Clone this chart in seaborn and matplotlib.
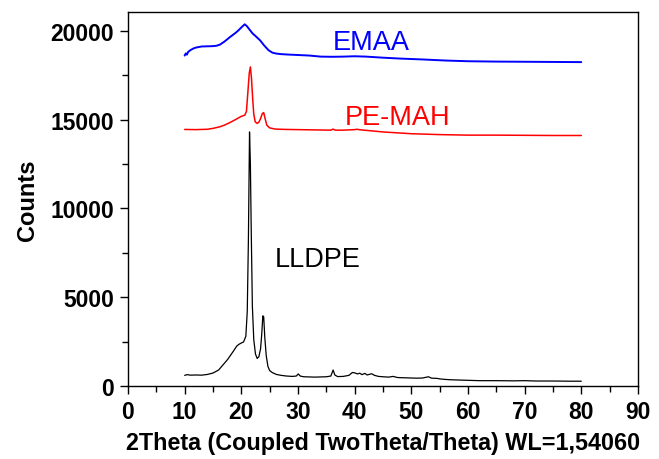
import matplotlib
matplotlib.use("Agg")
import matplotlib.pyplot as plt
from matplotlib.ticker import MultipleLocator
import seaborn as sns
import pandas as pd

# Diffractogram traces: 2theta (deg) and counts
lldpe_x = [10.0, 10.5, 11.0, 12.0, 13.0, 14.0, 15.0, 16.0, 16.8, 17.6, 18.6, 19.2, 19.6, 20.0,
           20.4, 20.8, 21.05, 21.25, 21.45, 21.6, 21.75, 21.95, 22.2, 22.5, 22.8, 23.1, 23.4,
           23.6, 23.8, 23.95, 24.15, 24.4, 24.7, 25.0, 25.5, 26.2, 27.0, 28.0, 29.0, 29.7,
           30.05, 30.4, 31.0, 32.0, 33.0, 34.0, 35.0, 35.8, 36.2, 36.5, 37.0, 38.0, 39.0,
           39.6, 40.0, 40.5, 40.9, 41.3, 41.8, 42.2, 43.0, 43.5, 44.2, 45.0, 46.0, 46.8,
           47.5, 48.0, 49.0, 50.0, 51.0, 52.0, 53.0, 53.6, 54.5, 55.0, 56.0, 57.0, 58.0,
           60.0, 62.0, 65.0, 68.0, 70.0, 72.0, 75.0, 78.0, 80.0]
lldpe_y = [600, 640, 610, 620, 610, 650, 730, 900, 1200, 1500, 1960, 2250, 2350, 2420,
           2480, 2800, 4200, 8200, 14300, 12500, 8800, 4500, 2600, 1800, 1550, 1650, 2100,
           2900, 3950, 3900, 2700, 1700, 1100, 870, 750, 650, 600, 560, 540, 560,
           680, 560, 520, 510, 500, 510, 520, 560, 900, 620, 530, 540, 600,
           760, 740, 680, 720, 640, 710, 620, 690, 600, 540, 520, 500, 540,
           480, 470, 460, 450, 440, 450, 520, 440, 430, 400, 370, 350, 340,
           320, 300, 300, 290, 300, 280, 280, 270, 270]

pemah_x = [10.0, 12.0, 14.0, 15.0, 16.2, 17.0, 18.0, 19.0, 19.5, 20.0, 20.6, 20.9, 21.15,
           21.4, 21.6, 21.8, 22.0, 22.2, 22.45, 22.8, 23.1, 23.4, 23.7, 23.95, 24.2, 24.5,
           25.0, 26.0, 28.0, 30.0, 32.0, 34.0, 35.8, 36.2, 36.6, 38.0, 40.0, 40.4, 41.0,
           42.0, 45.0, 50.0, 55.0, 60.0, 65.0, 70.0, 75.0, 80.0]
pemah_y = [14440, 14430, 14450, 14500, 14590, 14680, 14830, 15000, 15090, 15180, 15240,
           15450, 16500, 17600, 17960, 17300, 16200, 15300, 14870, 14780, 14850, 15050,
           15330, 15390, 15050, 14680, 14530, 14460, 14440, 14430, 14420, 14410, 14400,
           14460, 14400, 14400, 14430, 14450, 14420, 14390, 14300, 14200, 14150, 14120,
           14120, 14110, 14100, 14100]

emaa_x = [10.0, 10.2, 10.4, 10.6, 11.0, 11.5, 12.0, 13.0, 14.0, 15.0, 15.6, 16.2, 17.0,
          18.0, 19.0, 19.5, 20.0, 20.6, 21.0, 21.5, 22.0, 22.5, 23.3, 24.0, 24.8, 25.5,
          26.2, 27.0, 28.0, 30.0, 32.0, 34.0, 36.0, 38.0, 40.0, 42.0, 45.0, 48.0, 52.0,
          56.0, 60.0, 65.0, 70.0, 75.0, 80.0]
emaa_y = [18600, 18720, 18650, 18800, 18900, 18990, 19050, 19110, 19120, 19130, 19150,
          19210, 19380, 19640, 19880, 20020, 20180, 20360, 20250, 20040, 19840, 19700,
          19460, 19180, 18900, 18760, 18710, 18680, 18660, 18630, 18600, 18540, 18530,
          18540, 18560, 18540, 18480, 18430, 18380, 18320, 18280, 18260, 18250, 18240,
          18230]

series_names = ["LLDPE", "PE-MAH", "EMAA"]
series_colors = ["black", "#ff0000", "#0000ff"]

x_ticks = [0, 10, 20, 30, 40, 50, 60, 70, 80, 90]
y_ticks = [0, 5000, 10000, 15000, 20000]

sns.set_style("ticks", {"text.color": "black", "axes.labelcolor": "black",
                        "xtick.color": "black", "ytick.color": "black",
                        "axes.edgecolor": "black"})
plt.rcParams["font.family"] = ["Liberation Sans", "DejaVu Sans"]

fig = plt.figure(figsize=(6.59, 4.60), dpi=100)
ax = fig.add_axes([0.1942, 0.1587, 0.7739, 0.8130])

traces = [(lldpe_x, lldpe_y), (pemah_x, pemah_y), (emaa_x, emaa_y)]
widths = [0.9, 1.1, 1.4]
for (xs, ys), name, col, lw in zip(traces, series_names, series_colors, widths):
    df = pd.DataFrame({"2theta": xs, "counts": ys})
    sns.lineplot(data=df, x="2theta", y="counts", color=col, linewidth=lw, ax=ax,
                 estimator=None, sort=False)

# Sample labels next to each trace
ax.text(36.1, 18990, "EMAA", color="#0000ff", fontsize=19.5, ha="left", va="baseline")
ax.text(38.3, 14720, "PE-MAH", color="#ff0000", fontsize=19.5, ha="left", va="baseline")
ax.text(25.9, 6740, "LLDPE", color="black", fontsize=19.5, ha="left", va="baseline")

ax.set_xlim(0, 90)
ax.set_ylim(0, 21050)
ax.set_xticks(x_ticks)
ax.set_yticks(y_ticks)
ax.xaxis.set_minor_locator(MultipleLocator(5))
ax.yaxis.set_minor_locator(MultipleLocator(2500))
ax.tick_params(which="major", direction="out", length=6, width=1, pad=4,
               labelsize=16.5, top=False, right=False, colors="black")
ax.tick_params(which="minor", direction="out", length=4, width=1, top=False, right=False,
               colors="black")
for lab in ax.get_xticklabels() + ax.get_yticklabels():
    lab.set_fontweight("bold")
    lab.set_color("black")

ax.set_xlabel("2Theta (Coupled TwoTheta/Theta) WL=1,54060", fontsize=16.8,
              fontweight="bold", labelpad=6, color="black")
ax.set_ylabel("Counts", fontsize=17, fontweight="bold", labelpad=8, color="black")

for sp in ax.spines.values():
    sp.set_visible(True)
    sp.set_linewidth(1.0)
    sp.set_color("black")

fig.savefig("out.png", dpi=100)
